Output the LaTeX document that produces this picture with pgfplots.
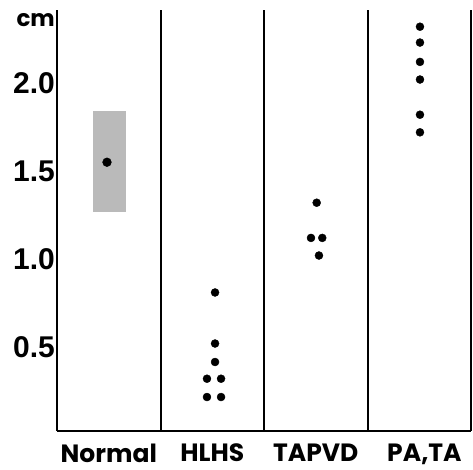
\documentclass[border=0pt]{standalone}
\usepackage{fontspec}
\setmainfont{Liberation Sans}
\newfontfamily\pop{Poppins}
\usepackage{pgfplots}
\pgfplotsset{compat=1.18}
\begin{document}
\begin{tikzpicture}[x=1pt,y=1pt]
\useasboundingbox (0,0) rectangle (473,470);
\begin{axis}[
  at={(57pt,39pt)}, anchor=south west,
  scale only axis, width=414pt, height=421pt,
  xmin=0, xmax=4, ymin=0.023, ymax=2.415,
  axis x line=bottom, axis y line=left,
  axis line style={line width=2.4pt, -, black},
  clip=false,
  major tick length=0pt,
  xtick={0.5,1.5,2.5,3.55},
  xticklabels={Normal,HLHS,TAPVD,{PA,TA}},
  xticklabel style={font=\pop\bfseries\fontsize{25}{27}\selectfont, anchor=north, yshift=-9pt},
  ytick={0.5,1,1.5,2},
  yticklabels={0.5,1.0,1.5,2.0},
  yticklabel style={font=\bfseries\fontsize{30}{32}\selectfont, anchor=east, inner sep=1pt, xshift=-1pt},
  extra y ticks={2.36},
  extra y tick labels={cm},
  extra y tick style={yticklabel style={font=\pop\bfseries\fontsize{23}{25}\selectfont, anchor=east, inner sep=1pt}},
]
\addplot[fill=black!27, draw=none] coordinates {(0.348,1.27) (0.667,1.27) (0.667,1.84) (0.348,1.84)} -- cycle;
\addplot[only marks, mark=*, mark size=4.4pt, black] coordinates {(0.483,1.55)};
\addplot[only marks, mark=*, mark size=4pt, black] coordinates {
 (1.527,0.81) (1.527,0.52) (1.527,0.415)
 (1.449,0.32) (1.585,0.32) (1.449,0.216) (1.585,0.216)
 (2.509,1.32) (2.454,1.12) (2.563,1.12) (2.531,1.02)
 (3.507,2.32) (3.507,2.23) (3.507,2.12) (3.507,2.02) (3.507,1.82) (3.507,1.72)
};
\draw[line width=2pt] (axis cs:1,0.023) -- (axis cs:1,2.415);
\draw[line width=2pt] (axis cs:2,0.023) -- (axis cs:2,2.415);
\draw[line width=2pt] (axis cs:3,0.023) -- (axis cs:3,2.415);
\draw[line width=2pt] (axis cs:4,0.023) -- (axis cs:4,2.415);
\end{axis}
\end{tikzpicture}
\end{document}
